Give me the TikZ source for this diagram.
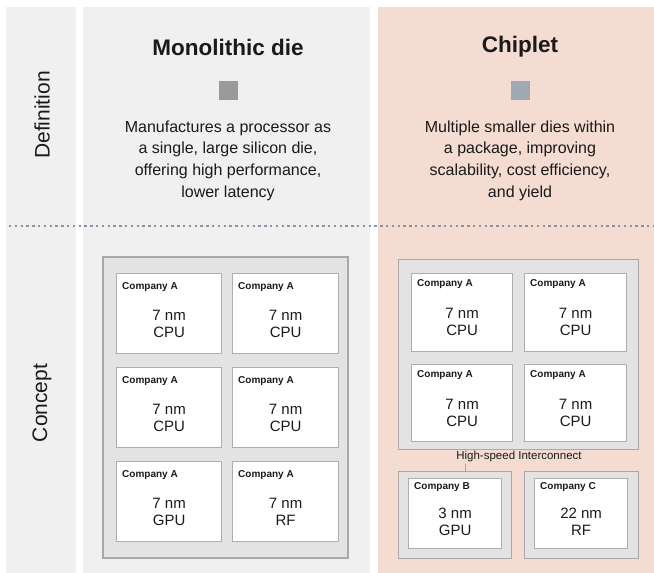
\documentclass[tikz,border=0pt]{standalone}
\usepackage{fontspec}
\setmainfont{Liberation Sans}
\usetikzlibrary{calc}

\definecolor{panelgray}{HTML}{F0F0F0}
\definecolor{panelpeach}{HTML}{F5DCD2}
\definecolor{pkgfill}{HTML}{E3E3E3}
\definecolor{pkgline}{HTML}{A8A8A8}
\definecolor{dieline}{HTML}{AEAEAE}
\definecolor{divider}{HTML}{8693A6}
\definecolor{monosq}{HTML}{9A9A9A}
\definecolor{chipsq}{HTML}{A0A8B4}
\definecolor{ink}{HTML}{1A1A1A}

\tikzset{
  panel/.style={draw=none},
  pkg/.style={draw=pkgline, fill=pkgfill, line width=1.2pt},
  die/.style={draw=dieline, fill=white, line width=1.2pt, inner sep=0pt, anchor=north west},
  colabel/.style={font=\fontsize{10}{12}\selectfont\bfseries, text=ink, anchor=west, inner sep=0pt},
  spec/.style={font=\fontsize{15}{17.5}\selectfont, text=ink, align=center, inner sep=0pt},
  heading/.style={font=\fontsize{22.5}{26}\selectfont\bfseries, text=ink},
  desc/.style={font=\fontsize{16}{21.7}\selectfont, text=ink, align=center, inner sep=0pt},
  sidelabel/.style={font=\fontsize{21}{24}\selectfont, text=ink, rotate=90},
  swatch/.style={minimum size=19pt, inner sep=0pt},
}

% one die: name, x, y, width, height, company, spec lines, label drop, spec drop, label indent
\newcommand\chipdie[9]{%
  \node[die, minimum width=#4pt, minimum height=#5pt] (#1) at (#2,#3) {};
  \node[colabel] at ([xshift=6pt, yshift=-#8pt]#1.north west) {#6};
  \node[spec] at ([yshift=-#9pt]#1.north) {#7};
}

\begin{document}
\begin{tikzpicture}[x=1pt, y=-1pt]
  \useasboundingbox (0,0) rectangle (654,573);
  \fill[white] (0,0) rectangle (654,573);

  % column panels
  \fill[panel, panelgray] (6,7) rectangle (76,573);
  \fill[panel, panelgray] (83,7) rectangle (370,573);
  \fill[panel, panelpeach] (378,7) rectangle (654,573);

  % row divider
  \draw[divider, line width=2pt, dash pattern=on 2.4pt off 3.4pt] (9,226) -- (654,226);

  % row labels
  \node[sidelabel] (rdef) at (42,115) {Definition};
  \node[sidelabel] (rcon) at (42,403) {Concept};

  % headings, swatches, descriptions
  \node[heading] (tmono) at (228,47) {Monolithic die};
  \node[heading] (tchip) at (520,47) {Chiplet};
  \node[swatch, fill=monosq] (smono) at (228,90) {};
  \node[swatch, fill=chipsq] (schip) at (520,90) {};
  \node[desc] (dmono) at (228,160.5) {Manufactures a processor as\\a single, large silicon die,\\offering high performance,\\lower latency};
  \node[desc] (dchip) at (520,160.5) {Multiple smaller dies within\\a package, improving\\scalability, cost efficiency,\\and yield};

  % monolithic die
  \draw[pkg] (103,257) rectangle (348,558);
  \chipdie{m11}{116}{273}{105}{80}{Company A}{7 nm\\CPU}{14}{51}
  \chipdie{m12}{232}{273}{106}{80}{Company A}{7 nm\\CPU}{14}{51}
  \chipdie{m21}{116}{367}{105}{80}{Company A}{7 nm\\CPU}{14}{51}
  \chipdie{m22}{232}{367}{106}{80}{Company A}{7 nm\\CPU}{14}{51}
  \chipdie{m31}{116}{461}{105}{80}{Company A}{7 nm\\GPU}{14}{51}
  \chipdie{m32}{232}{461}{106}{80}{Company A}{7 nm\\RF}{14}{51}

  % chiplet package
  \node[pkg, minimum width=240pt, minimum height=190pt, anchor=north west, inner sep=0pt] (cpkg) at (398,259) {};
  \chipdie{c11}{411}{273}{101}{78}{Company A}{7 nm\\CPU}{11}{49}
  \chipdie{c12}{524}{273}{102}{78}{Company A}{7 nm\\CPU}{11}{49}
  \chipdie{c21}{411}{364}{101}{77}{Company A}{7 nm\\CPU}{11}{49}
  \chipdie{c22}{524}{364}{102}{77}{Company A}{7 nm\\CPU}{11}{49}

  \node[pkg, minimum width=113pt, minimum height=87pt, anchor=north west, inner sep=0pt] (bpkg) at (398,471) {};
  \node[pkg, minimum width=114pt, minimum height=87pt, anchor=north west, inner sep=0pt] (cpkgc) at (524,471) {};
  \chipdie{b1}{408}{478}{93}{70}{Company B}{3 nm\\GPU}{9}{44}
  \chipdie{cc1}{534}{478}{93}{70}{Company C}{22 nm\\RF}{9}{44}

  % interconnect label and its lead to the GPU chiplet
  \node[font=\fontsize{11.5}{13}\selectfont, text=ink, inner sep=1pt] (hsi) at (519,457) {High-speed Interconnect};
  \draw[pkgline, line width=1pt] ([xshift=10pt]bpkg.north) -- ([xshift=10pt]bpkg.north |- hsi.south);
\end{tikzpicture}
\end{document}
